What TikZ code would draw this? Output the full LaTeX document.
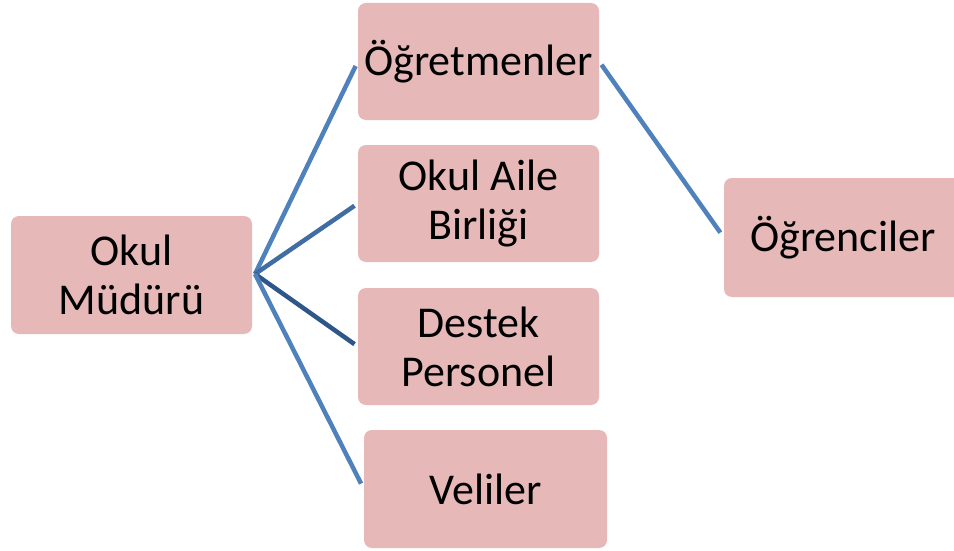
\documentclass[tikz,border=0pt]{standalone}
\usepackage{fontspec}
\setmainfont{Carlito}
\definecolor{boxfill}{HTML}{E6B9B8}
\definecolor{linkA}{HTML}{4F81BD}
\definecolor{linkB}{HTML}{3F6DA4}
\definecolor{linkC}{HTML}{2F5688}
\begin{document}
\begin{tikzpicture}[x=1pt,y=-1pt,
  orgbox/.style={rectangle, rounded corners=8pt, fill=boxfill, draw=none,
    minimum width=241pt, minimum height=117pt, inner sep=0pt, align=center,
    font=\fontsize{44}{49}\selectfont},
  link/.style={line width=4.5pt, draw=linkA}]
\clip (0,0) rectangle (954,551);
\fill[white] (0,0) rectangle (954,551);
\node[orgbox, minimum height=118pt] (mud) at (131.5,275) {Okul\\Müdürü};
\node[orgbox] (ogr) at (478.5,61.5) {Öğretmenler};
\node[orgbox] (oab) at (478.5,203.5) {Okul Aile\\Birliği};
\node[orgbox] (dp) at (478.5,346.5) {Destek\\Personel};
\node[orgbox, minimum width=243pt, minimum height=118pt] (vel) at (485.5,489) {Veliler};
\node[orgbox, minimum width=238pt, minimum height=119pt] (ogc) at (843,237.5) {Öğrenciler};
\coordinate (hub) at (255,274);
\draw[link, shorten >=5pt] (hub) -- (ogr.west);
\draw[link, draw=linkB, shorten >=4pt] (hub) -- (oab.west);
\draw[link, draw=linkC, shorten >=4pt] (hub) -- (dp.west);
\draw[link, shorten >=6pt] (hub) -- (vel.west);
\draw[link, shorten <=4pt, shorten >=6pt] (ogr.east) -- (ogc.west);
\end{tikzpicture}
\end{document}
